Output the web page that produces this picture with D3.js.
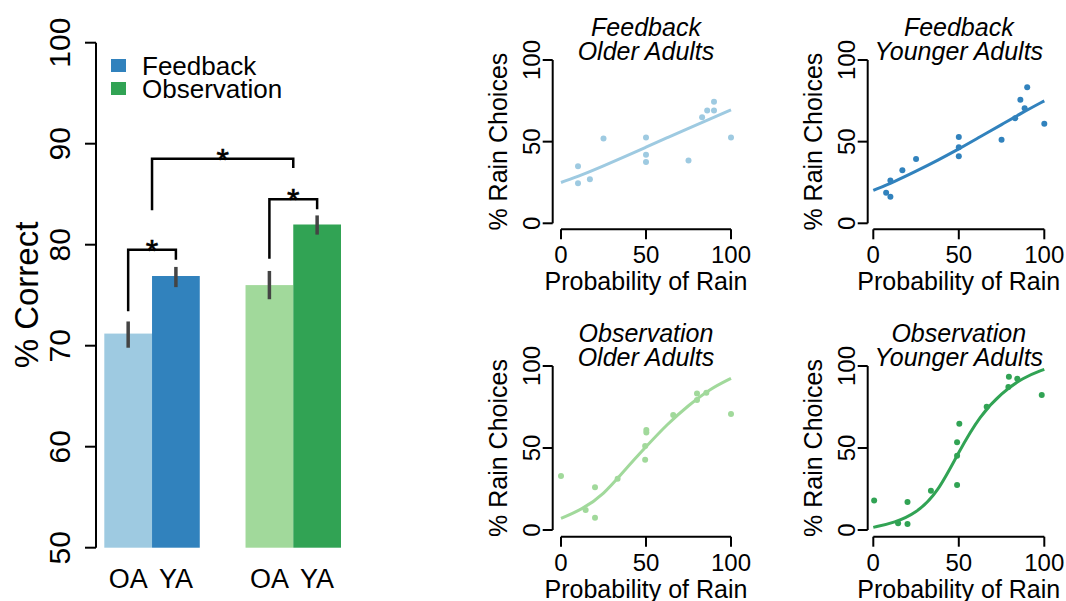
<!DOCTYPE html>
<html>
<head>
<meta charset="utf-8">
<script src="https://cdn.jsdelivr.net/npm/d3@7"></script>
<style>
  body { margin: 0; background: #fff; }
  svg { display: block; font-family: "Liberation Sans", Arial, Helvetica, sans-serif; }
</style>
</head>
<body>
<script>
// ---- bar chart data ----
var groups = ["Feedback", "Observation"];
var ages = ["OA", "YA"];
var barMeans = [[71.2, 76.9], [76.0, 82.0]];
var barLow = [[69.8, 75.8], [74.6, 81.0]];
var barHigh = [[72.4, 77.8], [77.4, 82.9]];
var barColors = [["#9ecae1", "#3182bd"], ["#a1d99b", "#31a354"]];
var legendColors = ["#3182bd", "#31a354"];
var yTicks = [50, 60, 70, 80, 90, 100];

// significance brackets: [group, age] of each end, bracket height, leg bottoms
var sigBrackets = [
    { a: ["Feedback", "OA"], b: ["Feedback", "YA"], top: 79.5, lowA: 73.4, lowB: 78.5 },
    { a: ["Observation", "OA"], b: ["Observation", "YA"], top: 84.5, lowA: 78.6, lowB: 83.5 },
    { a: ["Feedback", null], b: ["Observation", null], top: 88.5, lowA: 83.4, lowB: 87.6 }
];

// ---- scatter panel data: [probability of rain, % rain choices] ----
var fbOlderPts = [[10, 35], [10, 24.5], [17, 27], [25, 52], [50, 52.5], [50, 42], [50, 37.5],
    [75, 38.5], [83, 65], [86, 69], [90, 74.5], [90, 69], [100, 52.5]];
var fbOlderFit = [[0, 25], [12.5, 29.7], [25, 35.2], [37.5, 40.8], [50, 46.6], [62.5, 52.4],
    [75, 58.2], [87.5, 63.8], [100, 69.4]];

var fbYoungerPts = [[7.5, 18.7], [10, 16.3], [10, 26.2], [17, 32.5], [25, 39.4], [50, 52.8],
    [50, 46.5], [50, 41.1], [75, 51.2], [83, 64.4], [86, 75.6], [88.5, 70.5], [90, 83.3], [100, 61]];
var fbYoungerFit = [[0, 20.1], [12.5, 25.6], [25, 31.9], [37.5, 38.5], [50, 45.5], [62.5, 53],
    [75, 60.4], [87.5, 68], [100, 75]];

var obsOlderPts = [[0, 33], [14.5, 12.2], [20, 26], [20, 7.5], [33.3, 31.3], [49.5, 51.2],
    [49.5, 42.9], [50.2, 61], [50.2, 59.5], [66, 70.1], [80, 79.3], [80, 83.3], [85.5, 83.7], [100, 70.7]];
var obsOlderFit = [[0, 7.1], [12.5, 12.6], [25, 21.5], [37.5, 36.6], [50, 50.8], [62.5, 64.6],
    [75, 76], [87.5, 86], [100, 92.5]];

var obsYoungerPts = [[0.5, 18], [14.5, 4.1], [20, 17.1], [20, 3.7], [33.7, 24], [49, 27.4],
    [49, 45.3], [49, 53.5], [50.3, 64.8], [66.3, 75.2], [79, 87.2], [79.3, 93.5], [84.2, 92.3], [98.5, 82.3]];
var obsYoungerFit = [[0, 1.6], [12.5, 4.5], [25, 10.2], [37.5, 22.4], [50, 47.8], [62.5, 70],
    [75, 83.5], [87.5, 93], [100, 98]];

var panelTicks = [0, 50, 100];

var svg = d3.select("body").append("svg")
    .attr("width", 1066)
    .attr("height", 601);

// ================= bar chart =================
var y = d3.scaleLinear().domain([50, 100]).range([547.7, 42.7]);
var x0 = d3.scaleBand().domain(groups).range([104.3, 341]).paddingInner(0.324);
var x1 = d3.scaleBand().domain(ages).range([0, x0.bandwidth()]);

var bars = svg.append("g");
groups.forEach(function(g, gi) {
    ages.forEach(function(a, ai) {
        bars.append("rect")
            .attr("x", x0(g) + x1(a))
            .attr("y", y(barMeans[gi][ai]))
            .attr("width", x1.bandwidth())
            .attr("height", y(50) - y(barMeans[gi][ai]))
            .attr("fill", barColors[gi][ai]);
        bars.append("line")
            .attr("x1", x0(g) + x1(a) + x1.bandwidth() / 2)
            .attr("x2", x0(g) + x1(a) + x1.bandwidth() / 2)
            .attr("y1", y(barLow[gi][ai]))
            .attr("y2", y(barHigh[gi][ai]))
            .attr("stroke", "#444")
            .attr("stroke-width", 3.5);
        svg.append("text")
            .attr("x", x0(g) + x1(a) + x1.bandwidth() / 2)
            .attr("y", 587.7)
            .attr("text-anchor", "middle")
            .attr("font-size", 27)
            .text(a);
    });
});

// y axis
var yAxis = svg.append("g");
yAxis.append("line")
    .attr("x1", 96).attr("x2", 96)
    .attr("y1", y(50)).attr("y2", y(100))
    .attr("stroke", "#000").attr("stroke-width", 2);
yTicks.forEach(function(t) {
    yAxis.append("line")
        .attr("x1", 85).attr("x2", 96)
        .attr("y1", y(t)).attr("y2", y(t))
        .attr("stroke", "#000").attr("stroke-width", 2);
    yAxis.append("text")
        .attr("transform", "translate(70," + y(t) + ") rotate(-90)")
        .attr("text-anchor", "middle")
        .attr("font-size", 30)
        .text(t);
});
svg.append("text")
    .attr("transform", "translate(38,295) rotate(-90)")
    .attr("text-anchor", "middle")
    .attr("font-size", 33)
    .text("% Correct");

// legend
groups.forEach(function(g, i) {
    svg.append("rect")
        .attr("x", 111).attr("y", 59 + i * 23)
        .attr("width", 15).attr("height", 13)
        .attr("fill", legendColors[i]);
    svg.append("text")
        .attr("x", 142).attr("y", 74.5 + i * 23)
        .attr("font-size", 26)
        .text(g);
});

// significance brackets
function bracketX(end) {
    if (end[1] === null) return x0(end[0]) + x0.bandwidth() / 2;
    return x0(end[0]) + x1(end[1]) + x1.bandwidth() / 2;
}
sigBrackets.forEach(function(b) {
    var xa = bracketX(b.a), xb = bracketX(b.b);
    svg.append("path")
        .attr("d", "M" + xa + "," + y(b.lowA) + "V" + y(b.top) + "H" + xb + "V" + y(b.lowB))
        .attr("fill", "none")
        .attr("stroke", "#000")
        .attr("stroke-width", 2.5);
    svg.append("text")
        .attr("x", (xa + xb) / 2)
        .attr("y", y(b.top) + 12)
        .attr("text-anchor", "middle")
        .attr("font-size", 32)
        .attr("stroke", "#000")
        .attr("stroke-width", 0.6)
        .text("*");
});

// ================= scatter panels =================
var panels = [
    { title: ["Feedback", "Older Adults"], pts: fbOlderPts, fit: fbOlderFit, color: "#9ecae1",
      left: 561, right: 731, top: 60, bottom: 223.3, axisX: 552.7, axisY: 229.3 },
    { title: ["Feedback", "Younger Adults"], pts: fbYoungerPts, fit: fbYoungerFit, color: "#3182bd",
      left: 873.3, right: 1044.3, top: 60, bottom: 223.3, axisX: 867.7, axisY: 229.3 },
    { title: ["Observation", "Older Adults"], pts: obsOlderPts, fit: obsOlderFit, color: "#a1d99b",
      left: 561, right: 731, top: 366, bottom: 530, axisX: 552.7, axisY: 536.7 },
    { title: ["Observation", "Younger Adults"], pts: obsYoungerPts, fit: obsYoungerFit, color: "#31a354",
      left: 873.3, right: 1044.3, top: 366, bottom: 530, axisX: 867.7, axisY: 536.7 }
];

panels.forEach(function(p) {
    var g = svg.append("g");
    var px = d3.scaleLinear().domain([0, 100]).range([p.left, p.right]);
    var py = d3.scaleLinear().domain([0, 100]).range([p.bottom, p.top]);

    // y axis
    g.append("line")
        .attr("x1", p.axisX).attr("x2", p.axisX)
        .attr("y1", py(0)).attr("y2", py(100))
        .attr("stroke", "#000").attr("stroke-width", 2);
    // x axis
    g.append("line")
        .attr("x1", px(0)).attr("x2", px(100))
        .attr("y1", p.axisY).attr("y2", p.axisY)
        .attr("stroke", "#000").attr("stroke-width", 2);

    panelTicks.forEach(function(t) {
        g.append("line")
            .attr("x1", p.axisX - 10).attr("x2", p.axisX)
            .attr("y1", py(t)).attr("y2", py(t))
            .attr("stroke", "#000").attr("stroke-width", 2);
        g.append("text")
            .attr("transform", "translate(" + (p.axisX - 13) + "," + py(t) + ") rotate(-90)")
            .attr("text-anchor", "middle")
            .attr("font-size", 24)
            .text(t);
        g.append("line")
            .attr("x1", px(t)).attr("x2", px(t))
            .attr("y1", p.axisY).attr("y2", p.axisY + 10)
            .attr("stroke", "#000").attr("stroke-width", 2);
        g.append("text")
            .attr("x", px(t)).attr("y", p.axisY + 34)
            .attr("text-anchor", "middle")
            .attr("font-size", 24)
            .text(t);
    });

    g.append("text")
        .attr("x", (p.left + p.right) / 2).attr("y", p.axisY + 61)
        .attr("text-anchor", "middle")
        .attr("font-size", 25)
        .text("Probability of Rain");
    g.append("text")
        .attr("transform", "translate(" + (p.axisX - 46) + "," + ((p.top + p.bottom) / 2) + ") rotate(-90)")
        .attr("text-anchor", "middle")
        .attr("font-size", 25)
        .text("% Rain Choices");

    p.title.forEach(function(line, i) {
        g.append("text")
            .attr("x", (p.left + p.right) / 2)
            .attr("y", p.top - 24 + i * 24)
            .attr("text-anchor", "middle")
            .attr("font-size", 25)
            .attr("font-style", "italic")
            .text(line);
    });

    g.append("path")
        .datum(p.fit)
        .attr("d", d3.line()
            .x(function(d) { return px(d[0]); })
            .y(function(d) { return py(d[1]); })
            .curve(d3.curveBasis))
        .attr("fill", "none")
        .attr("stroke", p.color)
        .attr("stroke-width", 3);

    g.selectAll("circle")
        .data(p.pts)
        .enter()
        .append("circle")
        .attr("cx", function(d) { return px(d[0]); })
        .attr("cy", function(d) { return py(d[1]); })
        .attr("r", 3)
        .attr("fill", p.color);
});
</script>
</body>
</html>
